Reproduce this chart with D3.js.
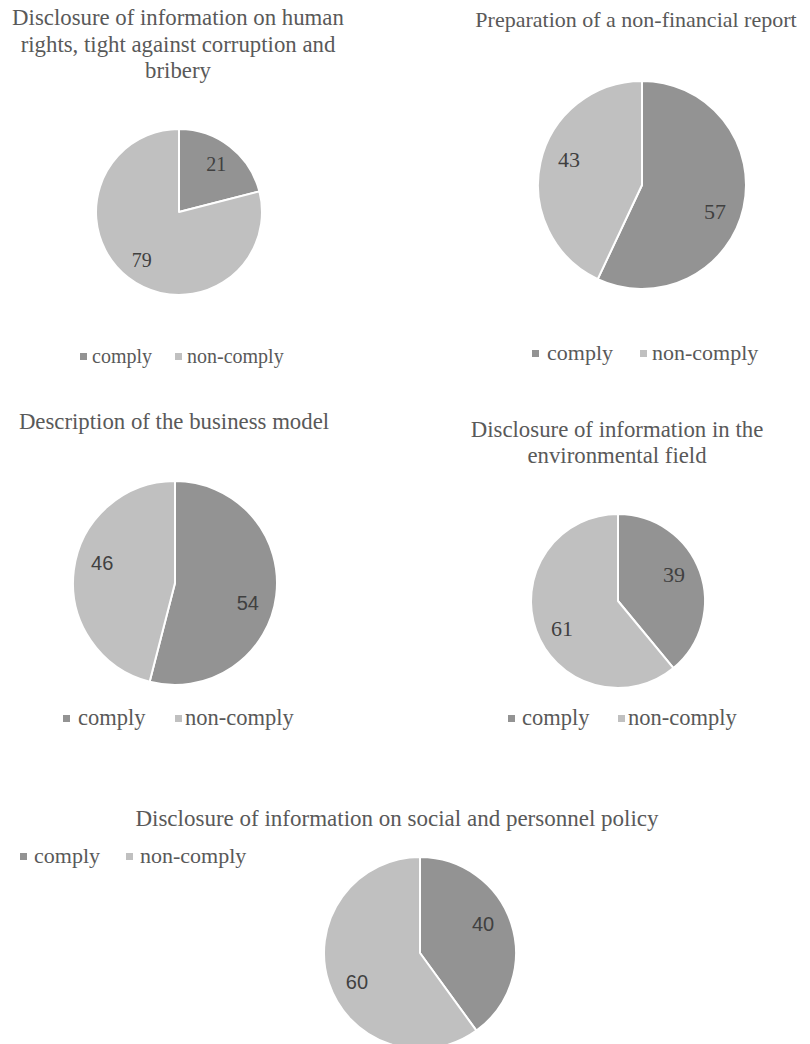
<!DOCTYPE html>
<html>
<head>
<meta charset="utf-8">
<script src="https://cdn.jsdelivr.net/npm/d3@7"></script>
<style>
  html, body { margin: 0; padding: 0; background: #ffffff; }
  svg { display: block; }
</style>
</head>
<body>
<svg id="chart" width="810" height="1044"></svg>
<script>
// ---- DATA ----
const categories = ["comply", "non-comply"];
const chartTitles = [
  ["Disclosure of information on human", "rights, tight against corruption and", "bribery"],
  ["Preparation of a non-financial report"],
  ["Description of the business model"],
  ["Disclosure of information in the", "environmental field"],
  ["Disclosure of information on social and personnel policy"]
];
const complyValues    = [21, 57, 54, 39, 40];
const nonComplyValues = [79, 43, 46, 61, 60];

// ---- LAYOUT (positions/styles only) ----
const SERIF = "Liberation Serif";
const SANS = "Liberation Sans";
const layout = [
  { cx: 179, cy: 212, r: 83,  titleX: 178, titleY: 25, lineH: 26.5, titleSize: 22.8,
    labelFont: SERIF, labelSize: 20, labelR: 0.73, labelShift: 0,
    legendY: 363, legendSize: 20, legendX: [80, 175], legendTextX: [92, 187] },
  { cx: 642, cy: 185, r: 104, titleX: 636, titleY: 27, lineH: 26, titleSize: 22,
    labelFont: SERIF, labelSize: 22, labelR: 0.745, labelShift: 7,
    legendY: 360, legendSize: 22, legendX: [532, 640], legendTextX: [547, 652] },
  { cx: 175, cy: 583, r: 102, titleX: 174, titleY: 429, lineH: 26, titleSize: 22.8,
    labelFont: SANS, labelSize: 20, labelR: 0.74, labelShift: 8,
    legendY: 725, legendSize: 22.5, legendX: [63, 175], legendTextX: [78, 185] },
  { cx: 618, cy: 601, r: 87,  titleX: 617, titleY: 437, lineH: 26, titleSize: 22.8,
    labelFont: SERIF, labelSize: 22, labelR: 0.715, labelShift: -6,
    legendY: 725, legendSize: 22.5, legendX: [508, 618], legendTextX: [522, 628] },
  { cx: 420, cy: 953, r: 96,  titleX: 397, titleY: 826, lineH: 26, titleSize: 23,
    labelFont: SANS, labelSize: 20, labelR: 0.725, labelShift: -7,
    legendY: 863, legendSize: 22, legendX: [20, 126], legendTextX: [34, 140] }
];

const color = d3.scaleOrdinal().domain(categories).range(["#939393", "#c0c0c0"]);
const textColor = "#595959";
const labelColor = "#404040";

const svg = d3.select("#chart");
const pie = d3.pie().sort(null).value(d => d.value);

chartTitles.forEach((title, i) => {
  const L = layout[i];
  const data = [
    { cat: categories[0], value: complyValues[i] },
    { cat: categories[1], value: nonComplyValues[i] }
  ];
  const g = svg.append("g");

  // title
  const t = g.append("text")
    .attr("x", L.titleX).attr("y", L.titleY)
    .attr("text-anchor", "middle")
    .style("font-family", SERIF)
    .style("font-size", L.titleSize + "px")
    .attr("fill", textColor);
  title.forEach((line, k) => {
    t.append("tspan").attr("x", L.titleX).attr("dy", k === 0 ? 0 : L.lineH).text(line);
  });

  // pie
  const arc = d3.arc().innerRadius(0).outerRadius(L.r);
  const lr = L.r * L.labelR;
  const labelArc = d3.arc().innerRadius(lr).outerRadius(lr);
  const shift = L.labelShift * Math.PI / 180;
  const pg = g.append("g").attr("transform", `translate(${L.cx},${L.cy})`);
  const arcs = pie(data);
  pg.selectAll("path").data(arcs).join("path")
    .attr("d", arc)
    .attr("fill", d => color(d.data.cat))
    .attr("stroke", "#ffffff")
    .attr("stroke-width", 2)
    .attr("stroke-linejoin", "round");
  pg.selectAll("text").data(arcs).join("text")
    .attr("transform", d => `translate(${labelArc.centroid({ startAngle: d.startAngle + shift, endAngle: d.endAngle + shift })})`)
    .attr("text-anchor", "middle")
    .attr("dy", "0.35em")
    .style("font-family", L.labelFont)
    .style("font-size", L.labelSize + "px")
    .attr("fill", labelColor)
    .text(d => d.data.value);

  // legend
  categories.forEach((c, k) => {
    const sq = 7;
    g.append("rect")
      .attr("x", L.legendX[k]).attr("y", L.legendY - 10)
      .attr("width", sq).attr("height", sq)
      .attr("fill", color(c));
    g.append("text")
      .attr("x", L.legendTextX[k]).attr("y", L.legendY)
      .style("font-family", SERIF)
      .style("font-size", L.legendSize + "px")
      .attr("fill", textColor)
      .text(c);
  });
});
</script>
</body>
</html>
